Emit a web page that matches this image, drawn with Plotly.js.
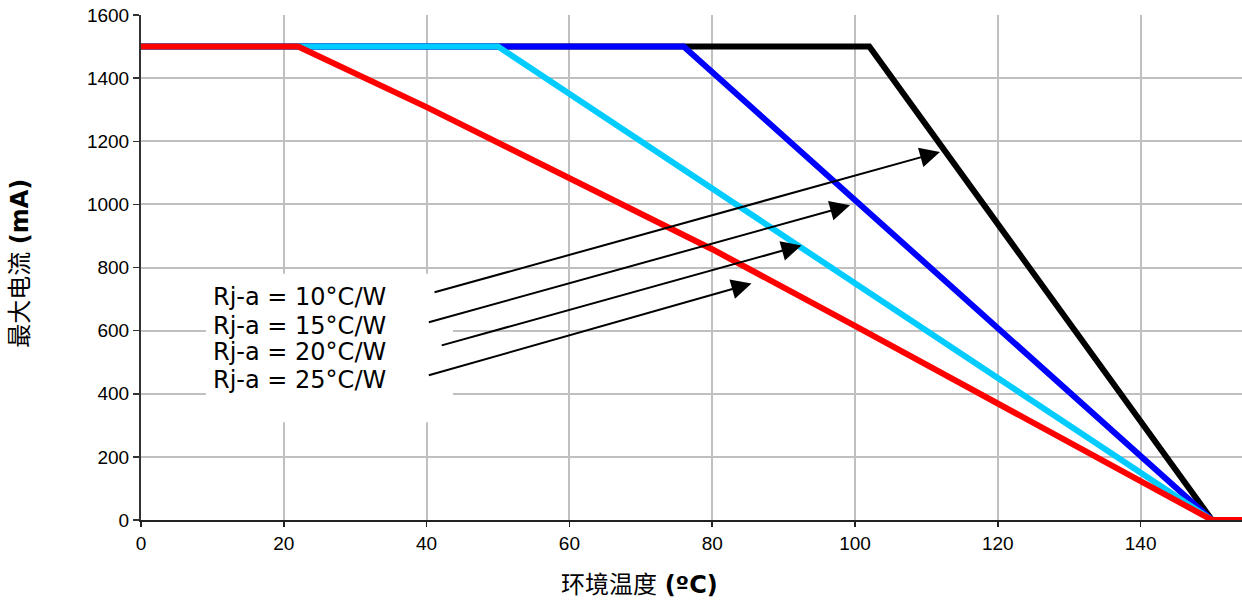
<!DOCTYPE html>
<html>
<head>
<meta charset="utf-8">
<script src="https://cdn.plot.ly/plotly-3.0.1.min.js"></script>
<style>html,body{margin:0;padding:0;background:#fff;}#chart{width:1242px;height:603px;}</style>
</head>
<body>
<div id="chart"></div>
<script>
// Ambient temperature (°C) breakpoints and max current (mA) for each Rj-a
const seriesNames = ['Rj-a = 10°C/W', 'Rj-a = 15°C/W', 'Rj-a = 20°C/W', 'Rj-a = 25°C/W'];
const seriesColors = ['#000000', '#0000ff', '#00ccff', '#ff0000'];
const temp10 = [0, 102, 150, 154.2];
const current10 = [1500, 1500, 0, 0];
const temp15 = [0, 76, 150, 154.2];
const current15 = [1500, 1500, 0, 0];
const temp20 = [0, 50, 150, 154.2];
const current20 = [1500, 1500, 0, 0];
const temp25 = [0, 22, 40, 80, 100, 150, 154.2];
const current25 = [1500, 1500, 1308, 858, 615, 0, 0];
const xTicks = [0, 20, 40, 60, 80, 100, 120, 140];
const yTicks = [0, 200, 400, 600, 800, 1000, 1200, 1400, 1600];
// arrow tail/head points (temperature, current) for the label pointers
const arrowTailX = [40.9, 40.1, 41.9, 40.1];
const arrowTailY = [720, 625, 552, 457];
const arrowHeadX = [111.9, 99.3, 92.5, 85.5];
const arrowHeadY = [1166, 997, 870, 749];
const labelY = [705, 616, 531, 442];

const xs = [temp10, temp15, temp20, temp25];
const ys = [current10, current15, current20, current25];
const traces = xs.map((x, i) => ({
  x: x, y: ys[i], type: 'scatter', mode: 'lines', name: seriesNames[i],
  line: {color: seriesColors[i], width: 6, shape: 'linear'},
  hoverinfo: 'skip', cliponaxis: true
}));

const annotations = [];
seriesNames.forEach((n, i) => {
  annotations.push({
    x: 9.8, y: labelY[i], xref: 'x', yref: 'y', xanchor: 'left', yanchor: 'middle',
    text: n, showarrow: false,
    font: {family: 'DejaVu Sans, Verdana, sans-serif', size: 24, color: '#000'}
  });
  annotations.push({
    x: arrowHeadX[i], y: arrowHeadY[i], ax: arrowTailX[i], ay: arrowTailY[i],
    xref: 'x', yref: 'y', axref: 'x', ayref: 'y', text: '', showarrow: true,
    arrowhead: 2, arrowsize: 2, arrowwidth: 2, arrowcolor: '#000', standoff: 0
  });
});
annotations.push({
  xref: 'paper', yref: 'paper', x: 0.453, y: -0.129, xanchor: 'center', yanchor: 'middle',
  text: '环境温度 <b>(ºC)</b>', showarrow: false,
  font: {family: 'DejaVu Sans, Noto Sans CJK SC, sans-serif', size: 24, color: '#000'}
});
annotations.push({
  xref: 'paper', yref: 'paper', x: -0.110, y: 0.509, xanchor: 'center', yanchor: 'middle',
  text: '最大电流 <b>(mA)</b>', textangle: -90, showarrow: false,
  font: {family: 'DejaVu Sans, Noto Sans CJK SC, sans-serif', size: 24, color: '#000'}
});

const layout = {
  width: 1242, height: 603,
  margin: {l: 141, r: 0, t: 15, b: 83, pad: 0},
  paper_bgcolor: '#fff', plot_bgcolor: '#fff',
  showlegend: false,
  xaxis: {
    range: [0, 154.2], tickvals: xTicks, ticktext: xTicks.map(String),
    showgrid: true, gridcolor: '#c0c0c0', gridwidth: 2, zeroline: false,
    showline: true, linecolor: '#222', linewidth: 2,
    ticks: 'outside', ticklen: 5, tickwidth: 1.5, tickcolor: '#222',
    tickfont: {family: 'Liberation Sans, Arial, sans-serif', size: 19, color: '#000'},
    fixedrange: true
  },
  yaxis: {
    range: [0, 1600], tickvals: yTicks, ticktext: yTicks.map(String),
    showgrid: true, gridcolor: '#c0c0c0', gridwidth: 2, zeroline: false,
    showline: true, linecolor: '#333', linewidth: 2,
    ticks: 'outside', ticklen: 6, tickwidth: 1.5, tickcolor: '#333',
    tickfont: {family: 'Liberation Sans, Arial, sans-serif', size: 19, color: '#000'},
    fixedrange: true
  },
  shapes: [{
    type: 'rect', xref: 'x', yref: 'y', x0: 9.1, x1: 43.7, y0: 310, y1: 780,
    fillcolor: '#ffffff', line: {width: 0}, layer: 'between'
  }],
  annotations: annotations
};

Plotly.newPlot('chart', traces, layout, {displayModeBar: false, staticPlot: true});
</script>
</body>
</html>
